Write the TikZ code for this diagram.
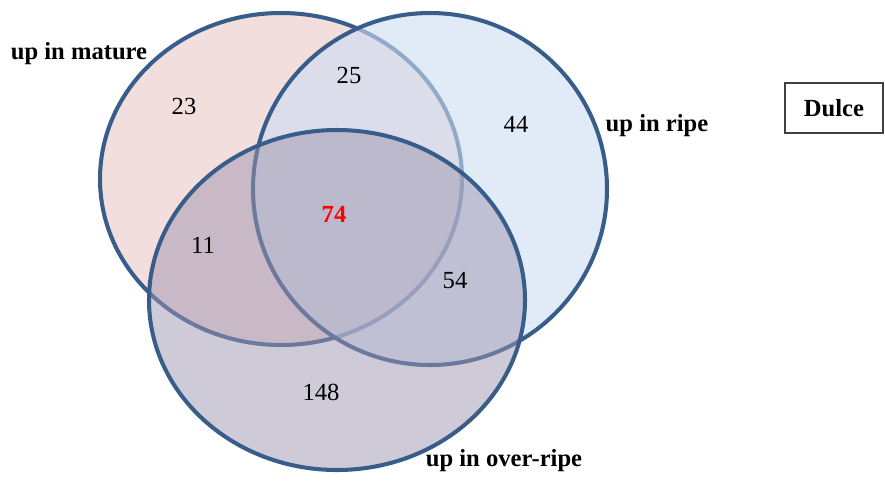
\documentclass[tikz,border=0pt]{standalone}
\usepackage{fontspec}
\setmainfont{Liberation Serif}
\usepackage{tikz}
\definecolor{rim}{RGB}{56,93,138}
\definecolor{pnk}{RGB}{235,200,200}
\definecolor{lbl}{RGB}{205,222,242}
\definecolor{prp}{RGB}{159,149,177}
\definecolor{dkg}{RGB}{64,64,64}
\tikzset{
  setlbl/.style={font=\fontsize{14}{16}\selectfont\bfseries},
  cnt/.style={font=\fontsize{14}{16}\selectfont},
  setrim/.style={draw=rim,line width=2.3pt}
}
\begin{document}
\begin{tikzpicture}[x=0.02cm,y=-0.02cm]
\useasboundingbox (0,0) rectangle (885,481);
\filldraw[setrim,fill=pnk,fill opacity=0.6] (281,179) ellipse [x radius=181,y radius=166];
\filldraw[setrim,fill=lbl,fill opacity=0.6] (430,189) ellipse [x radius=177,y radius=176];
\filldraw[setrim,fill=prp,fill opacity=0.5] (337,300) ellipse [x radius=188,y radius=170];
\node[setlbl] (mature) at (79,54) {up in mature};
\node[setlbl] (ripe) at (657,126) {up in ripe};
\node[setlbl] (overripe) at (504,461) {up in over-ripe};
\node[setlbl,draw=dkg,line width=0.8pt,minimum width=98*0.02cm,minimum height=50*0.02cm] (dulce) at (834,108) {Dulce};
\node[cnt] (onlyM) at (184,106) {23};
\node[cnt] (MR) at (349,75) {25};
\node[cnt] (onlyR) at (516,124) {44};
\node[cnt,text=red,font=\fontsize{14}{16}\selectfont\bfseries] (all) at (334,214) {74};
\node[cnt] (MO) at (203,245) {11};
\node[cnt] (RO) at (455,281) {54};
\node[cnt] (onlyO) at (321,392) {148};
\end{tikzpicture}
\end{document}
